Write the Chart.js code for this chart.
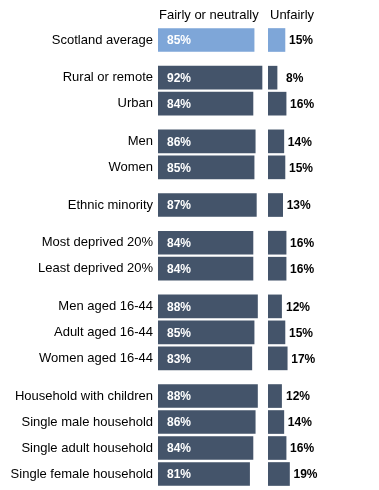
<!DOCTYPE html>
<html><head><meta charset="utf-8">
<script src="https://cdn.jsdelivr.net/npm/chart.js@4/dist/chart.umd.min.js"></script>
<style>html,body{margin:0;padding:0;background:#fff}#wrap{width:379px;height:490px;position:relative}</style>
</head><body><div id="wrap"><canvas id="c"></canvas></div>
<script>
const categories = ["Scotland average","Rural or remote","Urban","Men","Women","Ethnic minority","Most deprived 20%","Least deprived 20%","Men aged 16-44","Adult aged 16-44","Women aged 16-44","Household with children","Single male household","Single adult household","Single female household"];
const groupOf = [0,1,1,2,2,3,4,4,5,5,5,6,6,6,6];
const fairly = [85,92,84,86,85,87,84,84,88,85,83,88,86,84,81];
const unfairly = [15,8,16,14,15,13,16,16,12,15,17,12,14,16,19];
const seriesNames = ["Fairly or neutrally","Unfairly"];

const GROUP_GAP = 0.45;
const rowPos = categories.map((_, i) => i + groupOf[i] * GROUP_GAP);
const LIGHT = '#7ea6d8', DARK = '#44546a';
const colors = categories.map((_, i) => i === 0 ? LIGHT : DARK);
const FONT = '"Liberation Sans", Arial, sans-serif';

const labelPlugin = {
  id: 'labels',
  afterDatasetsDraw(chart) {
    const ctx = chart.ctx;
    ctx.save();
    ctx.textBaseline = 'middle';
    ctx.textAlign = 'left';
    ctx.font = 'bold 12px ' + FONT;
    chart.getDatasetMeta(0).data.forEach((el, i) => {
      ctx.fillStyle = '#ffffff';
      ctx.fillText(fairly[i] + '%', el.base + 9, el.y + 1);
    });
    const minX = chart.scales.x2.left + 18;
    chart.getDatasetMeta(1).data.forEach((el, i) => {
      ctx.fillStyle = '#000000';
      ctx.fillText(unfairly[i] + '%', Math.max(el.x + 4, minX), el.y + 1);
    });
    ctx.font = '13px ' + FONT;
    ctx.fillStyle = '#000000';
    ctx.textBaseline = 'alphabetic';
    ctx.fillText(seriesNames[0], chart.scales.x.left + 1, 19);
    ctx.fillText(seriesNames[1], chart.scales.x2.left + 2, 19);
    ctx.restore();
  }
};

new Chart(document.getElementById('c'), {
  type: 'bar',
  data: {
    datasets: [
      { label: seriesNames[0], data: fairly.map((v, i) => ({x: v, y: rowPos[i]})), xAxisID: 'x', yAxisID: 'y',
        backgroundColor: colors, barThickness: 23, grouped: false },
      { label: seriesNames[1], data: unfairly.map((v, i) => ({x: v, y: rowPos[i]})), xAxisID: 'x2', yAxisID: 'y',
        backgroundColor: colors, barThickness: 23, grouped: false }
    ]
  },
  options: {
    indexAxis: 'y',
    responsive: true,
    maintainAspectRatio: false,
    animation: false,
    layout: { padding: { top: 27, right: 1, bottom: 3, left: 0 } },
    plugins: { legend: { display: false }, tooltip: { enabled: false } },
    scales: {
      x: { type: 'linear', position: 'bottom', stack: 'cols', stackWeight: 1, min: 0, max: 97.3, display: false },
      x2: { type: 'linear', position: 'bottom', stack: 'cols', stackWeight: 1, min: 0, max: 97.3, display: false },
      y: {
        type: 'linear', reverse: true, offset: false, min: -0.5, max: rowPos[rowPos.length - 1] + 0.5,
        afterBuildTicks: s => { s.ticks = rowPos.map(v => ({value: v})); },
        afterFit: s => { s.width = 158; s.paddingTop = 0; s.paddingBottom = 0; },
        ticks: { autoSkip: false, padding: 5, color: '#000', font: { family: FONT, size: 13 },
                 callback: (v, i) => categories[i] },
        grid: { display: false, drawTicks: false, offset: false },
        border: { display: false }
      }
    }
  },
  plugins: [labelPlugin]
});
</script>
</body></html>
